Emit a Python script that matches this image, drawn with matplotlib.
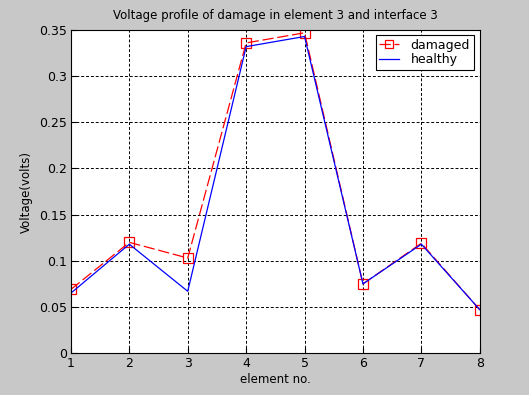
import matplotlib.pyplot as plt

elements = [1, 2, 3, 4, 5, 6, 7, 8]
damaged = [0.069, 0.120, 0.103, 0.336, 0.347, 0.075, 0.119, 0.047]
healthy = [0.065, 0.118, 0.067, 0.332, 0.343, 0.075, 0.118, 0.047]

fig = plt.figure(figsize=(5.29, 3.95), dpi=100, facecolor='#c8c8c8')
ax = fig.add_axes([0.134, 0.106, 0.773, 0.818])

ax.plot(elements, damaged, color='red', linestyle=(0, (9, 3)), linewidth=0.9,
        marker='s', markersize=7, markerfacecolor='none', markeredgecolor='red',
        markeredgewidth=0.9, label='damaged')
ax.plot(elements, healthy, color='blue', linewidth=0.9, label='healthy')

ax.set_xlim(1, 8)
ax.set_ylim(0, 0.35)
ax.set_xticks(elements)
ax.set_yticks([0, 0.05, 0.1, 0.15, 0.2, 0.25, 0.3, 0.35])
ax.set_yticklabels(['0', '0.05', '0.1', '0.15', '0.2', '0.25', '0.3', '0.35'])
ax.grid(True, color='black', linestyle=(0, (3, 2)), linewidth=0.7)
ax.tick_params(direction='in', labelsize=9, length=4, pad=3)
for s in ax.spines.values():
    s.set_linewidth(0.8)

ax.set_title('Voltage profile of damage in element 3 and interface 3', fontsize=8.5, pad=8)
ax.set_xlabel('element no.', fontsize=8.5, labelpad=2)
ax.set_ylabel('Voltage(volts)', fontsize=8.5)

leg = ax.legend(loc='upper right', fontsize=9, fancybox=False, framealpha=1,
                edgecolor='black', handlelength=1.6, handletextpad=0.9,
                borderpad=0.3, labelspacing=0.15, markerscale=0.85,
                borderaxespad=0, bbox_to_anchor=(0.985, 0.985))
leg.get_frame().set_linewidth(0.8)

fig.savefig('out.png', dpi=100, facecolor=fig.get_facecolor())
